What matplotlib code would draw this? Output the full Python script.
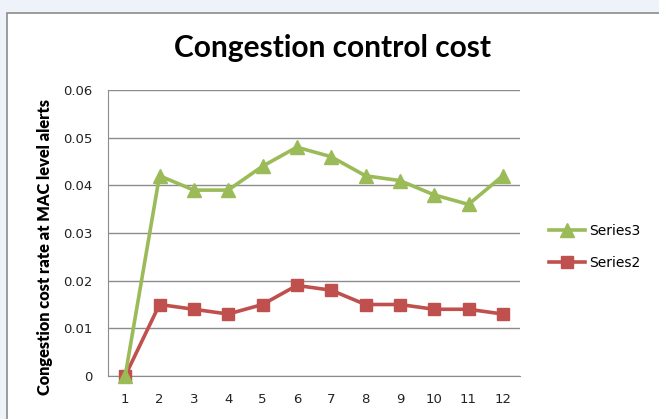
import matplotlib.pyplot as plt
from matplotlib.patches import Rectangle

# values
categories = [1, 2, 3, 4, 5, 6, 7, 8, 9, 10, 11, 12]
series3 = [0.0, 0.042, 0.039, 0.039, 0.044, 0.048, 0.046, 0.042, 0.041, 0.038, 0.036, 0.042]
series2 = [0.0, 0.015, 0.014, 0.013, 0.015, 0.019, 0.018, 0.015, 0.015, 0.014, 0.014, 0.013]
y_ticks = [0, 0.01, 0.02, 0.03, 0.04, 0.05, 0.06]
y_tick_labels = ['0', '0.01', '0.02', '0.03', '0.04', '0.05', '0.06']

W, H = 659, 419
fig = plt.figure(figsize=(W / 100, H / 100), dpi=100, facecolor='#EEF3FA')

# white chart area with grey frame (runs off the right/bottom edge)
fig.patches.append(Rectangle((7 / W, -0.05), 1.0, (H - 13) / H + 0.05,
                             transform=fig.transFigure, facecolor='white',
                             edgecolor='#8C8C8C', linewidth=1.2, zorder=-1))

ax = fig.add_axes([108 / W, (H - 376) / H, (520 - 108) / W, (376 - 90) / H])
ax.set_zorder(2)
ax.set_facecolor('white')

green = '#9BBB59'
red = '#C0504D'

ax.plot(categories, series2, color=red, linewidth=2.6, marker='s',
        markersize=8.5, label='Series2', zorder=3, clip_on=False)
ax.plot(categories, series3, color=green, linewidth=2.6, marker='^',
        markersize=10, label='Series3', zorder=4, clip_on=False)

ax.set_xlim(0.5, 12.5)
ax.set_ylim(0, 0.06)
ax.set_xticks(categories)
ax.set_xticklabels([str(c) for c in categories])
ax.set_yticks(y_ticks)
ax.set_yticklabels(y_tick_labels)
ax.tick_params(length=0, labelsize=9.5, colors='#222222')
ax.tick_params(axis='y', pad=11.5)
ax.tick_params(axis='x', pad=12)

ax.grid(axis='y', color='#8C8C8C', linewidth=1.0)
ax.set_axisbelow(True)
for side in ['top', 'right']:
    ax.spines[side].set_visible(False)
ax.spines['left'].set_color('#8C8C8C')
ax.spines['bottom'].set_color('#8C8C8C')

ax.set_ylabel('Congestion cost rate at MAC level alerts', fontsize=11.8,
              fontweight='heavy', family='Lato')
ax.yaxis.set_label_coords(-0.134, 0.45)

fig.text(332 / W, 1 - 48 / H, 'Congestion control cost', ha='center',
         va='center', fontsize=21.5, fontweight='bold', family='Lato')

handles, labels = ax.get_legend_handles_labels()
leg = fig.legend(handles[::-1], labels[::-1], loc='center left',
                 bbox_to_anchor=(536 / W, 1 - 247 / H), frameon=False,
                 fontsize=10, handlelength=2.6, labelspacing=1.3,
                 handletextpad=0.3)

plt.savefig('out.png', dpi=100, facecolor=fig.get_facecolor())
